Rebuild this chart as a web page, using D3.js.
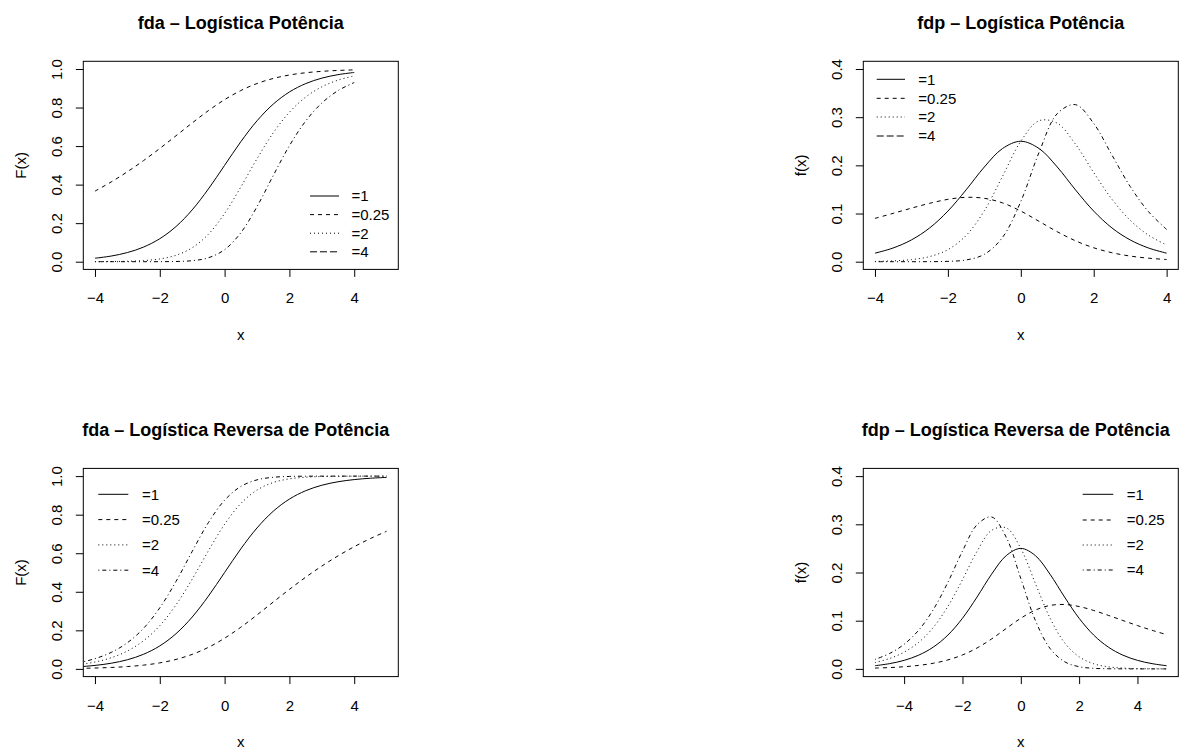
<!DOCTYPE html>
<html>
<head>
<meta charset="utf-8">
<script src="https://cdn.jsdelivr.net/npm/d3@7"></script>
<style>
  body { margin: 0; background: #fff; }
  svg text { font-family: "Liberation Sans", Arial, sans-serif; fill: #000; }
</style>
</head>
<body>
<div id="viz"></div>
<script>
// x grids of the curves
let xTop = [-4, -3.5, -3, -2.5, -2, -1.5, -1, -0.5, 0, 0.5, 1, 1.5, 2, 2.5, 3, 3.5, 4];
let xBot = [-5, -4.5, -4, -3.5, -3, -2.5, -2, -1.5, -1, -0.5, 0, 0.5, 1, 1.5, 2, 2.5, 3, 3.5, 4, 4.5, 5];

// legend labels (same in all panels)
let legendLabels = ["=1", "=0.25", "=2", "=4"];

// fda - Logistica Potencia
let fdaPot1   = [0.0180, 0.0293, 0.0474, 0.0759, 0.1192, 0.1824, 0.2689, 0.3775, 0.5, 0.6225, 0.7311, 0.8176, 0.8808, 0.9241, 0.9526, 0.9707, 0.9820];
let fdaPot025 = [0.3662, 0.4138, 0.4667, 0.5248, 0.5876, 0.6535, 0.7201, 0.7839, 0.8409, 0.8882, 0.9247, 0.9509, 0.9688, 0.9805, 0.9879, 0.9926, 0.9955];
let fdaPot2   = [0.0003, 0.0009, 0.0022, 0.0058, 0.0142, 0.0333, 0.0723, 0.1425, 0.25, 0.3875, 0.5344, 0.6684, 0.7758, 0.8540, 0.9074, 0.9422, 0.9644];
let fdaPot4   = [0.0000, 0.0000, 0.0000, 0.0000, 0.0002, 0.0011, 0.0052, 0.0203, 0.0625, 0.1501, 0.2856, 0.4468, 0.6019, 0.7294, 0.8234, 0.8878, 0.9300];

// fdp - Logistica Potencia
let fdpPot1   = [0.0177, 0.0285, 0.0452, 0.0701, 0.1050, 0.1491, 0.1966, 0.2350, 0.25, 0.2350, 0.1966, 0.1491, 0.1050, 0.0701, 0.0452, 0.0285, 0.0177];
let fdpPot025 = [0.0899, 0.1004, 0.1111, 0.1212, 0.1294, 0.1336, 0.1316, 0.1220, 0.1051, 0.0838, 0.0622, 0.0434, 0.0289, 0.0186, 0.0117, 0.0073, 0.0045];
let fdpPot2   = [0.0006, 0.0017, 0.0043, 0.0106, 0.0250, 0.0544, 0.1058, 0.1774, 0.25, 0.2926, 0.2875, 0.2439, 0.1850, 0.1296, 0.0861, 0.0552, 0.0347];
let fdpPot4   = [0.0000, 0.0000, 0.0000, 0.0001, 0.0007, 0.0036, 0.0153, 0.0506, 0.125, 0.2267, 0.3073, 0.3260, 0.2870, 0.2213, 0.1562, 0.1041, 0.0669];

// fda - Logistica Reversa de Potencia
let fdaRev1   = [0.0067, 0.0110, 0.0180, 0.0293, 0.0474, 0.0759, 0.1192, 0.1824, 0.2689, 0.3775, 0.5, 0.6225, 0.7311, 0.8176, 0.8808, 0.9241, 0.9526, 0.9707, 0.9820, 0.9890, 0.9933];
let fdaRev025 = [0.0017, 0.0028, 0.0045, 0.0074, 0.0121, 0.0195, 0.0312, 0.0491, 0.0753, 0.1118, 0.1591, 0.2161, 0.2799, 0.3465, 0.4124, 0.4752, 0.5333, 0.5862, 0.6338, 0.6762, 0.7140];
let fdaRev2   = [0.0133, 0.0219, 0.0356, 0.0578, 0.0926, 0.1460, 0.2242, 0.3316, 0.4656, 0.6125, 0.75, 0.8575, 0.9277, 0.9667, 0.9858, 0.9942, 0.9978, 0.9991, 0.9997, 0.9999, 1.0];
let fdaRev4   = [0.0199, 0.0326, 0.0530, 0.0854, 0.1356, 0.2107, 0.3167, 0.4535, 0.6093, 0.7588, 0.875, 0.9462, 0.9805, 0.9939, 0.9983, 0.9996, 0.9999, 1.0, 1.0, 1.0, 1.0];

// fdp - Logistica Reversa de Potencia
let fdpRev1   = [0.0066, 0.0109, 0.0177, 0.0285, 0.0452, 0.0701, 0.1050, 0.1491, 0.1966, 0.2350, 0.25, 0.2350, 0.1966, 0.1491, 0.1050, 0.0701, 0.0452, 0.0285, 0.0177, 0.0109, 0.0066];
let fdpRev025 = [0.0017, 0.0027, 0.0045, 0.0073, 0.0117, 0.0186, 0.0289, 0.0434, 0.0622, 0.0838, 0.1051, 0.1220, 0.1316, 0.1336, 0.1294, 0.1212, 0.1111, 0.1004, 0.0899, 0.0801, 0.0710];
let fdpRev2   = [0.0132, 0.0215, 0.0347, 0.0552, 0.0861, 0.1296, 0.1850, 0.2439, 0.2875, 0.2926, 0.25, 0.1774, 0.1058, 0.0544, 0.0250, 0.0106, 0.0043, 0.0017, 0.0006, 0.0002, 0.0001];
let fdpRev4   = [0.0197, 0.0319, 0.0511, 0.0804, 0.1230, 0.1796, 0.2444, 0.2991, 0.3152, 0.2732, 0.1875, 0.1005, 0.0427, 0.0149, 0.0045, 0.0012, 0.0003, 0.0001, 0, 0, 0];

// ticks
let xTicks = [-4, -2, 0, 2, 4];
let yTicksCdf = [0, 0.2, 0.4, 0.6, 0.8, 1.0];
let yTicksPdf = [0, 0.1, 0.2, 0.3, 0.4];

let w = 1184;
let h = 749;

// R line types: solid, dashed, dotted, dotdash, longdash
let lty = { solid: null, dashed: "4,4", dotted: "1,3", dotdash: "1,3,4,3", longdash: "7,3" };

let panels = [
  { title: "fda \u2013 Log\u00edstica Pot\u00eancia", ylab: "F(x)", titleDx: 0,
    x0: 83.3, x1: 398.3, y0: 61.3, y1: 269.4, xdom: [-4.36, 5.36], ydom: [-0.04, 1.04], yTicks: yTicksCdf,
    xs: xTop, series: [fdaPot1, fdaPot025, fdaPot2, fdaPot4],
    curveLty: ["solid", "dashed", "dotted", "dotdash"], legLty: ["solid", "dashed", "dotted", "longdash"],
    leg: { lx0: 310, lx1: 339, tx: 351.5, rows: [196, 214.6, 233.2, 251.8] } },
  { title: "fdp \u2013 Log\u00edstica Pot\u00eancia", ylab: "f(x)", titleDx: 0,
    x0: 863.3, x1: 1178.3, y0: 61.3, y1: 269.4, xdom: [-4.32, 4.32], ydom: [-0.016, 0.416], yTicks: yTicksPdf,
    xs: xTop, series: [fdpPot1, fdpPot025, fdpPot2, fdpPot4],
    curveLty: ["solid", "dashed", "dotted", "dotdash"], legLty: ["solid", "dashed", "dotted", "longdash"],
    leg: { lx0: 876.7, lx1: 905, tx: 918.3, rows: [79.3, 98.3, 117, 136] } },
  { title: "fda \u2013 Log\u00edstica Reversa de Pot\u00eancia", ylab: "F(x)", titleDx: -5,
    x0: 83.3, x1: 398.3, y0: 468.4, y1: 676.6, xdom: [-4.36, 5.36], ydom: [-0.04, 1.04], yTicks: yTicksCdf,
    xs: xBot, series: [fdaRev1, fdaRev025, fdaRev2, fdaRev4],
    curveLty: ["solid", "dashed", "dotted", "dotdash"], legLty: ["solid", "dashed", "dotted", "dotdash"],
    leg: { lx0: 98.3, lx1: 128.3, tx: 142, rows: [494.3, 519.6, 544.9, 570.2] } },
  { title: "fdp \u2013 Log\u00edstica Reversa de Pot\u00eancia", ylab: "f(x)", titleDx: -5,
    x0: 863.3, x1: 1178.3, y0: 468.4, y1: 676.6, xdom: [-5.4, 5.4], ydom: [-0.016, 0.416], yTicks: yTicksPdf,
    xs: xBot, series: [fdpRev1, fdpRev025, fdpRev2, fdpRev4],
    curveLty: ["solid", "dashed", "dotted", "dotdash"], legLty: ["solid", "dashed", "dotted", "dotdash"],
    leg: { lx0: 1082.7, lx1: 1113.3, tx: 1126.7, rows: [494.3, 520, 545, 570] } }
];

let svg = d3.select("#viz").append("svg")
  .attr("width", w).attr("height", h)
  .attr("viewBox", "0 0 " + w + " " + h);

let minus = d => (d < 0 ? "\u2212" : "") + Math.abs(d);

panels.forEach((p, pi) => {
  let xScale = d3.scaleLinear().domain(p.xdom).range([p.x0, p.x1]);
  let yScale = d3.scaleLinear().domain(p.ydom).range([p.y1, p.y0]);
  let g = svg.append("g").attr("class", "panel");

  // clip curves to the plot region like R does
  g.append("clipPath").attr("id", "clip" + pi)
    .append("rect")
    .attr("x", p.x0).attr("y", p.y0)
    .attr("width", p.x1 - p.x0).attr("height", p.y1 - p.y0);

  let line = d3.line()
    .x((d, i) => xScale(p.xs[i]))
    .y(d => yScale(d))
    .curve(d3.curveCatmullRom);

  g.append("g").attr("clip-path", "url(#clip" + pi + ")")
    .selectAll("path")
    .data(p.series)
    .join("path")
    .attr("d", d => line(d))
    .attr("fill", "none")
    .attr("stroke", "#000")
    .attr("stroke-width", 1)
    .attr("stroke-dasharray", (d, i) => lty[p.curveLty[i]]);

  // x axis
  let xAxis = d3.axisBottom(xScale).tickValues(xTicks).tickSize(7.5).tickFormat(minus);
  let gx = g.append("g").attr("transform", "translate(0," + p.y1 + ")").call(xAxis);
  gx.select(".domain").remove();
  gx.selectAll("text").attr("y", 34).attr("dy", 0)
    .style("font-size", "15px").style("font-family", null);

  // y axis, labels turned like R's default las = 0
  let yAxis = d3.axisLeft(yScale).tickValues(p.yTicks).tickSize(7.5).tickFormat(d3.format(".1f"));
  let gy = g.append("g").attr("transform", "translate(" + p.x0 + ",0)").call(yAxis);
  gy.select(".domain").remove();
  gy.selectAll("text")
    .attr("x", 0).attr("dy", 0)
    .attr("transform", "translate(-21.6,0) rotate(-90)")
    .attr("text-anchor", "middle")
    .style("font-size", "15px").style("font-family", null);
  svg.selectAll(".tick line").attr("stroke", "#000");

  // box
  g.append("rect")
    .attr("x", p.x0).attr("y", p.y0)
    .attr("width", p.x1 - p.x0).attr("height", p.y1 - p.y0)
    .attr("fill", "none").attr("stroke", "#000").attr("stroke-width", 1);

  let cx = (p.x0 + p.x1) / 2;
  g.append("text")
    .attr("x", cx + p.titleDx).attr("y", p.y0 - 32)
    .attr("text-anchor", "middle")
    .style("font-size", "18px").style("font-weight", "bold")
    .text(p.title);

  g.append("text")
    .attr("x", cx).attr("y", p.y1 + 70.6)
    .attr("text-anchor", "middle")
    .style("font-size", "15px")
    .text("x");

  g.append("text")
    .attr("transform", "translate(" + (p.x0 - 57.3) + "," + ((p.y0 + p.y1) / 2) + ") rotate(-90)")
    .attr("text-anchor", "middle")
    .style("font-size", "15px")
    .text(p.ylab);

  // legend (no box)
  let leg = g.append("g").attr("class", "legend");
  legendLabels.forEach((lab, i) => {
    let ry = p.leg.rows[i];
    leg.append("line")
      .attr("x1", p.leg.lx0).attr("x2", p.leg.lx1)
      .attr("y1", ry).attr("y2", ry)
      .attr("stroke", "#000").attr("stroke-width", 1)
      .attr("stroke-dasharray", lty[p.legLty[i]]);
    leg.append("text")
      .attr("x", p.leg.tx).attr("y", ry).attr("dy", "0.36em")
      .style("font-size", "15px")
      .text(lab);
  });
});
</script>
</body>
</html>
